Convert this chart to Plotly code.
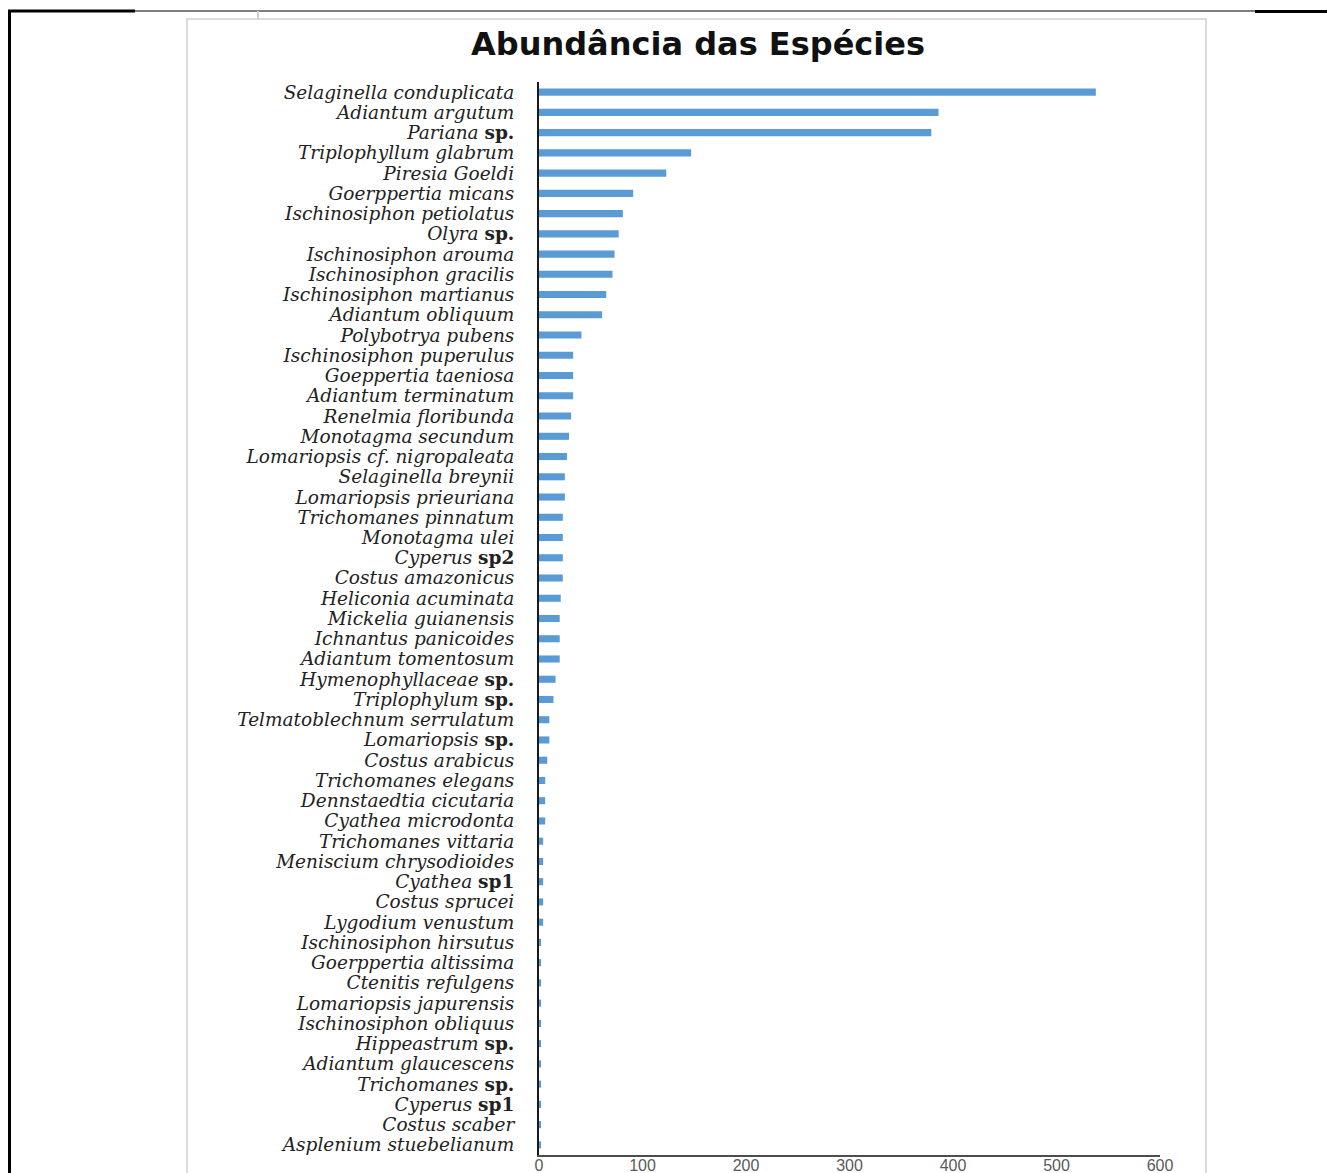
import plotly.graph_objects as go

# Species, listed top to bottom as they appear on the chart
species = [
    "Selaginella conduplicata", "Adiantum argutum", "Pariana sp.",
    "Triplophyllum glabrum", "Piresia Goeldi", "Goerppertia micans",
    "Ischinosiphon petiolatus", "Olyra sp.", "Ischinosiphon arouma",
    "Ischinosiphon gracilis", "Ischinosiphon martianus", "Adiantum obliquum",
    "Polybotrya pubens", "Ischinosiphon puperulus", "Goeppertia taeniosa",
    "Adiantum terminatum", "Renelmia floribunda", "Monotagma secundum",
    "Lomariopsis cf. nigropaleata", "Selaginella breynii", "Lomariopsis prieuriana",
    "Trichomanes pinnatum", "Monotagma ulei", "Cyperus sp2",
    "Costus amazonicus", "Heliconia acuminata", "Mickelia guianensis",
    "Ichnantus panicoides", "Adiantum tomentosum", "Hymenophyllaceae sp.",
    "Triplophylum sp.", "Telmatoblechnum serrulatum", "Lomariopsis sp.",
    "Costus arabicus", "Trichomanes elegans", "Dennstaedtia cicutaria",
    "Cyathea microdonta", "Trichomanes vittaria", "Meniscium chrysodioides",
    "Cyathea sp1", "Costus sprucei", "Lygodium venustum",
    "Ischinosiphon hirsutus", "Goerppertia altissima", "Ctenitis refulgens",
    "Lomariopsis japurensis", "Ischinosiphon obliquus", "Hippeastrum sp.",
    "Adiantum glaucescens", "Trichomanes sp.", "Cyperus sp1",
    "Costus scaber", "Asplenium stuebelianum",
]

# Number of individuals per species
abundance = [
    538, 386, 379,
    147, 123, 91,
    81, 77, 73,
    71, 65, 61,
    41, 33, 33,
    33, 31, 29,
    27, 25, 25,
    23, 23, 23,
    23, 21, 20,
    20, 20, 16,
    14, 10, 10,
    8, 6, 6,
    6, 4, 4,
    4, 4, 4,
    2, 2, 2,
    2, 2, 2,
    2, 2, 2,
    2, 2,
]

x_ticks = [0, 100, 200, 300, 400, 500, 600]
chart_title = "Abundância das Espécies"


def label_markup(name):
    """Italic scientific name; open-nomenclature suffixes stay upright."""
    for suffix in (" sp.", " sp1", " sp2"):
        if name.endswith(suffix):
            return "<i>" + name[: -len(suffix)] + "</i> <b>" + suffix.strip() + "</b>"
    return "<i>" + name + "</i>"


tick_labels = [label_markup(s) for s in species]

# Page geometry (pixels)
W, H = 1327, 1173
L, R, T, B = 539, 1160, 82, 1155


def px_x(px):
    return (px - L) / (R - L)


def px_y(py):
    return (B - py) / (B - T)


fig = go.Figure(
    go.Bar(
        x=abundance,
        y=species,
        orientation="h",
        marker=dict(color="#5B9BD5", line=dict(width=0)),
        hoverinfo="x+y",
    )
)

shapes = [
    # page frame: top rule and left rule
    dict(type="line", xref="paper", yref="paper",
         x0=px_x(8), x1=px_x(W + 5), y0=px_y(11), y1=px_y(11),
         line=dict(color="#000000", width=1.2)),
    dict(type="line", xref="paper", yref="paper",
         x0=px_x(8), x1=px_x(135), y0=px_y(11), y1=px_y(11),
         line=dict(color="#000000", width=3)),
    dict(type="line", xref="paper", yref="paper",
         x0=px_x(1255), x1=px_x(W + 5), y0=px_y(11.5), y1=px_y(11.5),
         line=dict(color="#000000", width=3)),
    dict(type="line", xref="paper", yref="paper",
         x0=px_x(9.5), x1=px_x(9.5), y0=px_y(10), y1=px_y(H + 20),
         line=dict(color="#000000", width=3)),
    dict(type="line", xref="paper", yref="paper",
         x0=px_x(258), x1=px_x(258), y0=px_y(11), y1=px_y(19),
         line=dict(color="#cfcfcf", width=2)),
    # chart area border
    dict(type="rect", xref="paper", yref="paper", layer="below",
         x0=px_x(187), x1=px_x(1206), y0=px_y(19), y1=px_y(H + 30),
         line=dict(color="#dcdcdc", width=2), fillcolor="rgba(0,0,0,0)"),
]

fig.update_layout(
    width=W,
    height=H,
    margin=dict(l=L, r=W - R, t=T, b=H - B, pad=0, autoexpand=False),
    paper_bgcolor="#ffffff",
    plot_bgcolor="#ffffff",
    bargap=0.65,
    showlegend=False,
    shapes=shapes,
    title=dict(
        text="<b>" + chart_title + "</b>",
        x=698 / W,
        xanchor="center",
        y=1 - 44 / H,
        yanchor="middle",
        font=dict(family="DejaVu Sans", size=32, color="#111111"),
    ),
    xaxis=dict(
        range=[0, 600],
        tickvals=x_ticks,
        ticktext=[str(v) for v in x_ticks],
        showgrid=False,
        zeroline=False,
        showline=True,
        linecolor="#4d4d4d",
        linewidth=1.5,
        ticks="",
        automargin=False,
        ticklabelstandoff=-5,
        tickfont=dict(family="Liberation Sans", size=16, color="#595959"),
    ),
    yaxis=dict(
        categoryorder="array",
        categoryarray=species,
        autorange="reversed",
        tickvals=species,
        ticktext=tick_labels,
        showgrid=False,
        zeroline=False,
        showline=True,
        linecolor="#1a1a1a",
        linewidth=2,
        ticks="",
        automargin=False,
        ticklabelstandoff=19,
        tickfont=dict(family="DejaVu Serif", size=18.5, color="#222222"),
    ),
)

fig.write_html("out.html")
